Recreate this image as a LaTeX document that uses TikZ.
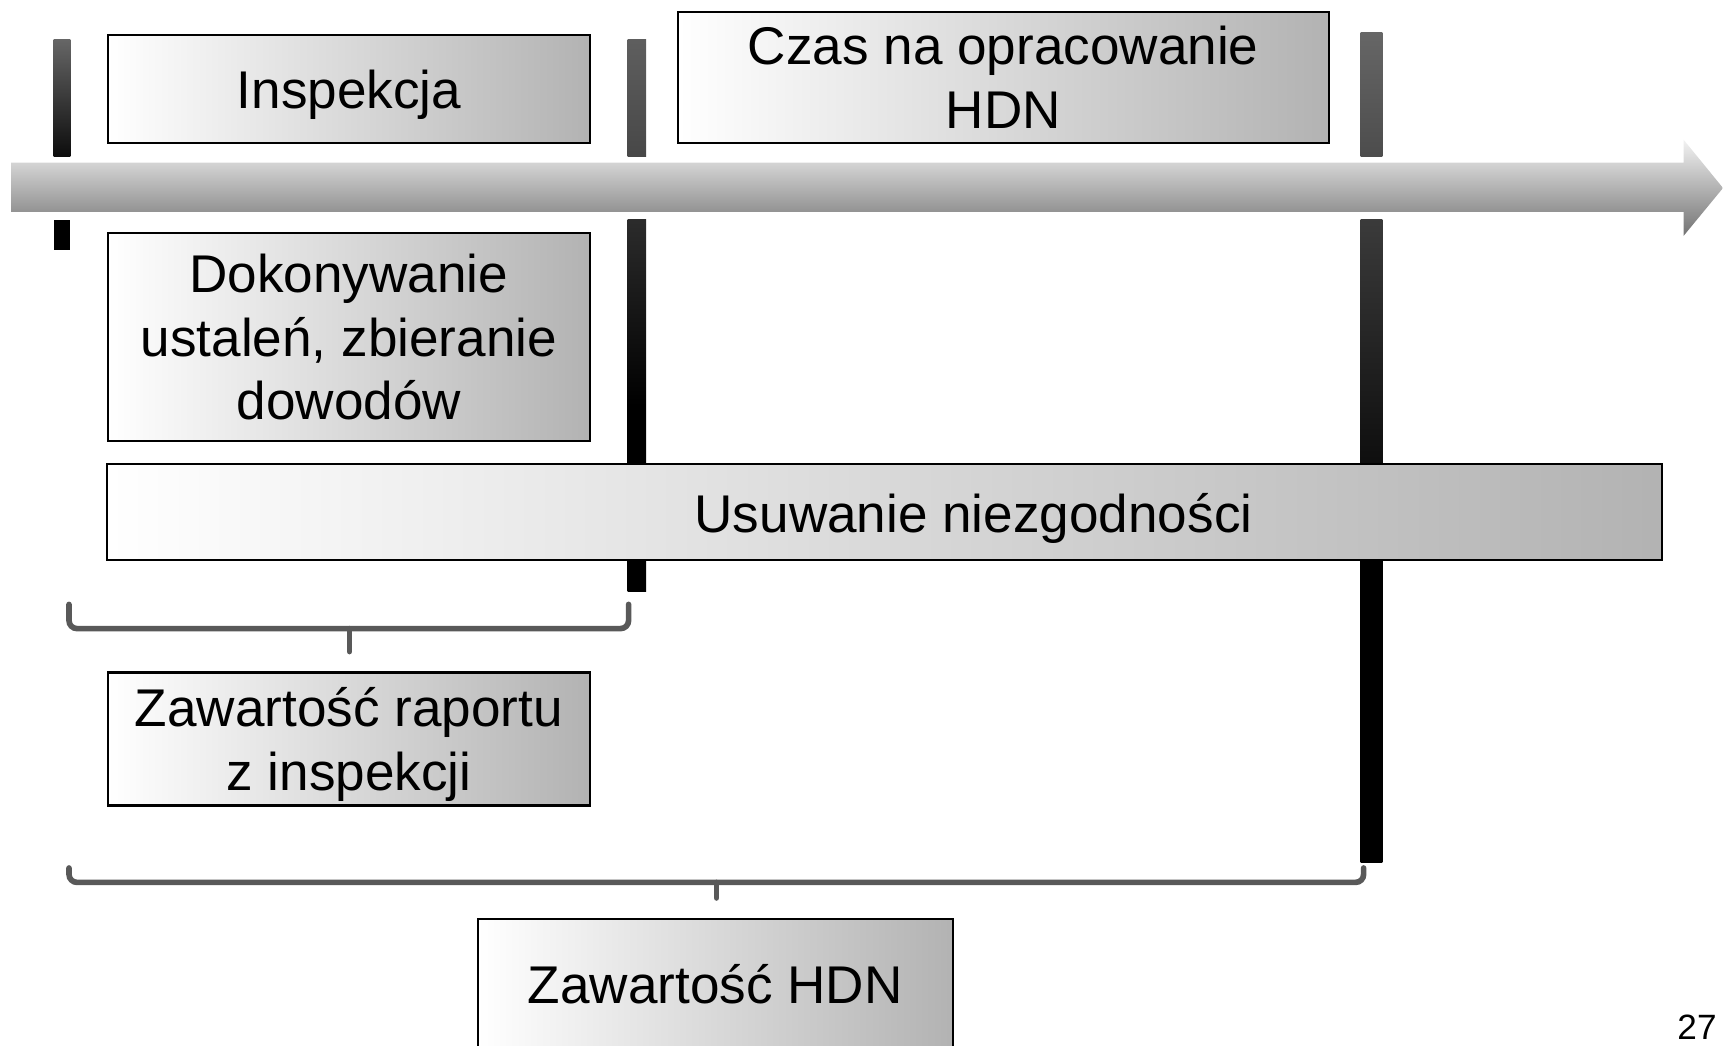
\documentclass[tikz,border=0pt]{standalone}
\usepackage{fontspec}
\setmainfont{Liberation Sans}
\usetikzlibrary{positioning, calc}
\tikzstyle{block} = [rectangle, draw, line width=0.6pt, inner sep=0pt,
    left color=white, middle color=black!4, right color=black!30,
    align=center, text depth=0pt, font=\fontsize{15.1}{18.1}\selectfont]
\tikzstyle{bar} = [rectangle, inner sep=0pt]
\tikzstyle{brace} = [draw=black!65, line width=1.6pt, rounded corners=0.08cm, line cap=round]
\tikzstyle{timeline} = [top color=black!5, bottom color=black!55]

\begin{document}
\begin{tikzpicture}[x=0.01cm, y=-0.01cm]
\useasboundingbox (0,0) rectangle (1723,1046);
\clip (0,0) rectangle (1723,1046);

% time axis
\path [timeline] (11,162.6) -- (1683.5,162.6) -- (1683.5,139.6) -- (1723,188)
  -- (1683.5,236) -- (1683.5,212) -- (11,212) -- cycle;

% milestones
\node [bar, minimum width=0.165cm, minimum height=1.164cm, top color=black!60, bottom color=black!95] (m1up) at (62,97.8) {};
\node [bar, minimum width=0.165cm, minimum height=0.297cm, fill=black] (m1low) at (62,234.7) {};
\node [bar, minimum width=0.185cm, minimum height=1.164cm, top color=black!63, bottom color=black!72] (m2up) at (636.8,97.8) {};
\node [bar, minimum width=0.185cm, minimum height=3.712cm, top color=black!83, bottom color=black, middle color=black] (m2low) at (636.8,405.4) {};
\node [bar, minimum width=0.219cm, minimum height=1.23cm, top color=black!60, bottom color=black!70] (m3up) at (1371.5,94.5) {};
\node [bar, minimum width=0.219cm, minimum height=6.428cm, top color=black!77, bottom color=black, middle color=black] (m3low) at (1371.5,541.2) {};

% boxes
\node [block, minimum width=4.823cm, minimum height=1.08cm] (insp) at (348.9,89) {Inspekcja};
\node [block, minimum width=6.506cm, minimum height=1.31cm] (czas) at (1003.3,77.5) {Czas na opracowanie\\HDN};
\node [block, minimum width=4.823cm, minimum height=2.076cm] (dokon) at (348.9,336.8) {Dokonywanie\\ustaleń, zbieranie\\dowodów};
\node [block, minimum width=15.538cm, minimum height=0.967cm] (usun) at (884.6,512) {};
\node [font=\fontsize{15.1}{18.1}\selectfont] (usuntxt) at ($(usun.center)+(89,6.6)$) {Usuwanie niezgodności};
\node [block, minimum width=4.823cm, minimum height=1.33cm] (raport) at (348.9,739) {Zawartość raportu\\z inspekcji};
\node [block, minimum width=4.747cm, minimum height=1.306cm] (hdn) at (715.3,984) {Zawartość HDN};

% braces
\coordinate (br1) at (349.5,628.6);
\draw [brace] (69,604.4) -- (69,628.6) -- (br1) -- (628.6,628.6) -- (628.6,604.4);
\draw [brace] (br1) -- ++(0,23);
\coordinate (br2) at (716.5,882.4);
\draw [brace] (69,868) -- (69,882.4) -- (br2) -- (1363.6,882.4) -- (1363.6,868);
\draw [brace] (br2) -- ++(0,15.6);

\node [font=\fontsize{10}{12}\selectfont, anchor=base] (page) at (1697,1040) {27};
\end{tikzpicture}
\end{document}
